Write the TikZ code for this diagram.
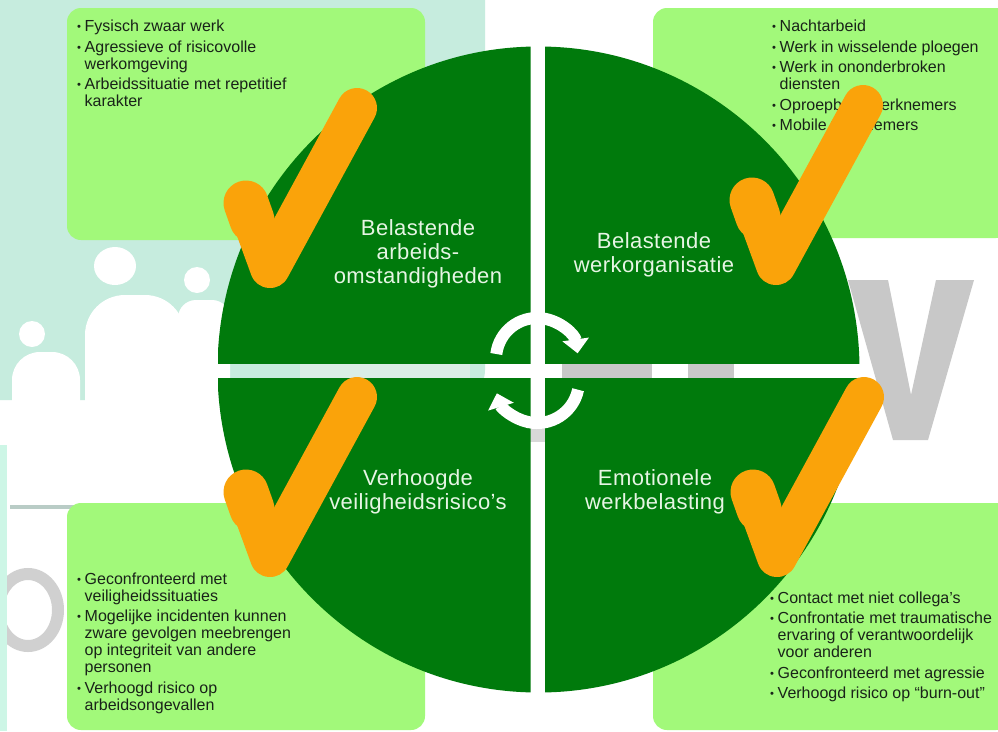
\documentclass[tikz,border=0pt]{standalone}
\usepackage{fontspec}
\usepackage{graphicx}
\setmainfont{Liberation Sans}
\usetikzlibrary{arrows.meta,calc}
\definecolor{boxgreen}{RGB}{162,249,122}
\definecolor{circgreen}{RGB}{0,122,12}
\definecolor{checkorange}{RGB}{250,163,10}
\definecolor{wmteal}{RGB}{198,236,222}
\definecolor{wmgray}{RGB}{200,200,200}
\definecolor{wmline}{RGB}{185,204,198}
\definecolor{wmstrip}{RGB}{205,246,230}
\definecolor{wmgap}{RGB}{218,238,230}
\definecolor{labelwhite}{RGB}{230,245,228}
\definecolor{boxtext}{RGB}{25,35,25}
\newcommand{\bitem}[1]{\par\hangindent=7.5pt\hangafter=1\noindent\makebox[7.5pt][l]{\raisebox{1pt}{\scalebox{0.7}{\textbullet}}}#1}
\newcommand{\blist}[1]{\begin{minipage}[t]{330pt}\raggedright\parskip=3.5pt #1\end{minipage}}
\tikzset{
  boxstyle/.style={fill=boxgreen, rounded corners=14pt},
  listtext/.style={anchor=base west, inner sep=0pt, text=boxtext, font=\fontsize{16}{17}\selectfont},
  quadlabel/.style={anchor=north, align=center, inner sep=0pt, text=labelwhite, font=\fontsize{22}{24}\selectfont\addfontfeature{LetterSpace=2}},
  checkmark/.style={draw=checkorange, line width=40pt, line cap=round, line join=round},
  cycarrow/.style={draw=white, line width=12pt, -{Triangle[length=14pt,width=26pt]}},
  quadfill/.style={fill=circgreen}
}
\begin{document}
\begin{tikzpicture}[x=1pt,y=-1pt]
\useasboundingbox (0,0) rectangle (998,731);
\fill[white] (0,0) rectangle (998,731);

% faded watermark
\fill[wmteal, rounded corners=30pt] (-40,-40) rectangle (485,400);
\fill[white] (115,266) ellipse (21 and 19);
\fill[white] (197,280) ellipse (13 and 13);
\fill[white] (32,334) ellipse (13 and 13);
\fill[white, rounded corners=40pt] (85,295) rectangle (185,440);
\fill[white, rounded corners=28pt] (12,352) rectangle (80,440);
\fill[white, rounded corners=18pt] (178,300) rectangle (230,440);
\fill[wmgray] (848,280) -- (888,280) -- (911,395) -- (936,280) -- (974,280) -- (928,440) -- (893,440) -- cycle;
\draw[wmgray!85, line width=12pt] (28,610) ellipse (30 and 36);
\draw[wmline, line width=4pt] (10,507) -- (80,507);
\fill[wmstrip] (0,445) rectangle (7,731);
\fill[wmgap] (300,363) rectangle (470,378);
\fill[wmgray] (562,363) rectangle (652,378);
\fill[wmgray] (688,363) rectangle (734,378);
\fill[wmgray!70] (530,424) rectangle (545,442);

% boxes
\fill[boxstyle] (67,8) rectangle (425,240);
\fill[boxstyle] (653,8) rectangle (1010,238);
\fill[boxstyle] (67,503) rectangle (425,730);
\fill[boxstyle] (653,503) rectangle (1010,730);

% box texts
\node[listtext] (tltext) at (77,31.5) {\blist{%
\bitem{Fysisch zwaar werk}%
\bitem{Agressieve of risicovolle\newline werkomgeving}%
\bitem{Arbeidssituatie met repetitief\newline karakter}}};
\node[listtext] (trtext) at (772,31.7) {\blist{%
\bitem{Nachtarbeid}%
\bitem{Werk in wisselende ploegen}%
\bitem{Werk in ononderbroken\newline diensten}%
\bitem{Oproepbare werknemers}%
\bitem{Mobile werknemers}}};
\node[listtext] (bltext) at (77,584) {\blist{%
\bitem{Geconfronteerd met\newline veiligheidssituaties}%
\bitem{Mogelijke incidenten kunnen\newline zware gevolgen meebrengen\newline op integriteit van andere\newline personen}%
\bitem{Verhoogd risico op\newline arbeidsongevallen}}};
\node[listtext] (brtext) at (770,603) {\blist{%
\bitem{Contact met niet collega’s}%
\bitem{Confrontatie met traumatische\newline ervaring of verantwoordelijk\newline voor anderen}%
\bitem{Geconfronteerd met agressie}%
\bitem{Verhoogd risico op “burn-out”}}};

% circle quadrants
\begin{scope}
  \clip (218,0) rectangle (530.5,363);
  \fill[quadfill] (538.5,369.5) ellipse (321 and 323);
\end{scope}
\begin{scope}
  \clip (545,0) rectangle (860,363);
  \fill[quadfill] (538.5,369.5) ellipse (321 and 323);
\end{scope}
\begin{scope}
  \clip (218,378) rectangle (530.5,731);
  \fill[quadfill] (538.5,369.5) ellipse (321 and 323);
\end{scope}
\begin{scope}
  \clip (545,378) rectangle (860,731);
  \fill[quadfill] (538.5,369.5) ellipse (321 and 323);
\end{scope}

% quadrant labels
\node[quadlabel] (ql1) at (418,219) {Belastende\\arbeids-\\omstandigheden};
\node[quadlabel] (ql2) at (654,232) {Belastende\\werkorganisatie};
\node[quadlabel] (ql3) at (418,469) {Verhoogde\\veiligheidsrisico’s};
\node[quadlabel] (ql4) at (655,469) {Emotionele\\werkbelasting};

% cycle arrows
\coordinate (cu) at (537,359);
\coordinate (cl) at (537,381);
\draw[cycarrow] ($(cu)+(187:41)$) arc[start angle=187, end angle=352, radius=41];
\draw[cycarrow] ($(cl)+(12:42)$) arc[start angle=12, end angle=163, radius=42];

% check marks
\foreach \dx/\dy in {0/0, 506/-3, 0/289, 507/289}{
  \begin{scope}[shift={(\dx,\dy)}]
    \draw[checkmark] (247,205) -- (270,268) -- (357,108);
    \draw[checkmark, line width=45pt] (246,203) -- (252,220);
  \end{scope}
}
\end{tikzpicture}
\end{document}
